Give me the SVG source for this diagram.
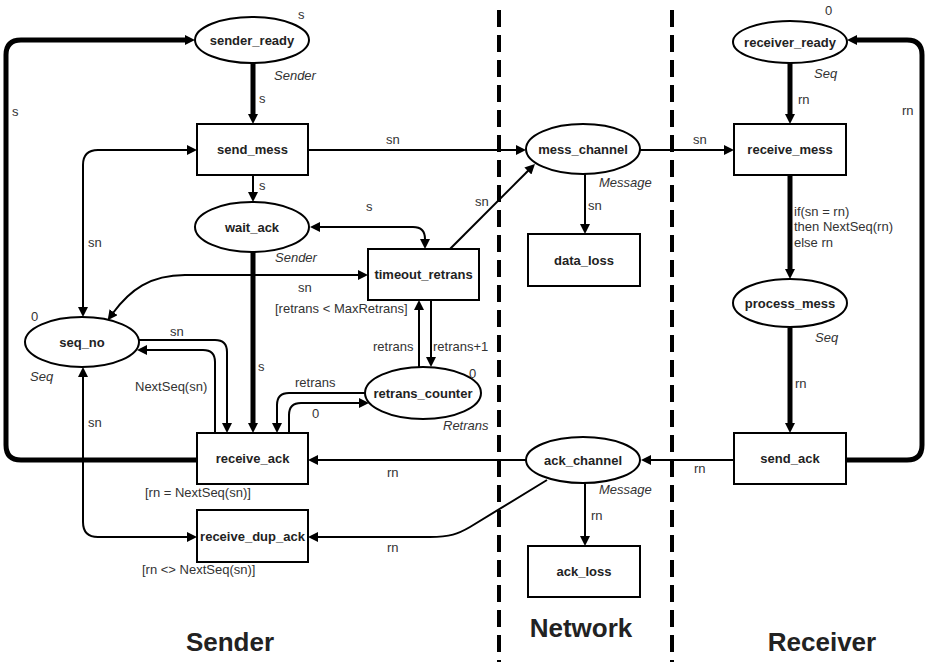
<svg xmlns="http://www.w3.org/2000/svg" width="927" height="662" viewBox="0 0 927 662">
<style>
.place{fill:#fff;stroke:#000;stroke-width:2}
.trans{fill:#fff;stroke:#000;stroke-width:2}
.nl{font-family:"Liberation Sans",Arial,sans-serif;font-size:13px;font-weight:bold;fill:#222;text-anchor:middle}
.lb{font-family:"Liberation Sans",Arial,sans-serif;font-size:13px;fill:#333}
.ty{font-family:"Liberation Sans",Arial,sans-serif;font-size:13px;font-style:italic;fill:#333}
.big{font-family:"Liberation Sans",Arial,sans-serif;font-size:26px;font-weight:bold;fill:#222;text-anchor:middle}
.c{fill:none;stroke:#000;stroke-width:2}
.k{fill:none;stroke:#000;stroke-width:5}
.a{marker-end:url(#ah)}
.b{marker-start:url(#ahs);marker-end:url(#ah)}
.div{stroke:#000;stroke-width:4;stroke-dasharray:17 8}
</style>
<defs>
<marker id="ah" markerUnits="userSpaceOnUse" markerWidth="10" markerHeight="10" refX="1" refY="5" orient="auto"><path d="M0,0 L10,5 L0,10 z" fill="#000"/></marker>
<marker id="ahs" markerUnits="userSpaceOnUse" markerWidth="10" markerHeight="10" refX="1" refY="5" orient="auto-start-reverse"><path d="M0,0 L10,5 L0,10 z" fill="#000"/></marker>
</defs>
<rect width="927" height="662" fill="#fff"/>
<g id="dividers">
<line class="div" x1="499" y1="10" x2="499" y2="662"/>
<line class="div" x1="672" y1="10" x2="672" y2="662"/>
</g>
<g id="connectors">
<path class="k a" d="M197,460 H21 Q6,460 6,445 V55 Q6,40 21,40 H186"/>
<path class="k a" d="M253,63 V115"/>
<path class="c a" d="M253,175 V193"/>
<path class="k a" d="M253,252 V424"/>
<path class="c b" d="M83,308 V165 Q83,150 98,150 H188"/>
<path class="c b" d="M83,376 V522 Q83,537 98,537 H188"/>
<path class="c b" d="M113,313 C130,290 150,275 185,275 H359"/>
<path class="c b" d="M319,227 H413 Q425,227 425,239 V240"/>
<path class="c a" d="M139,340 H215 Q227,340 227,352 V424"/>
<path class="c a" d="M215,433 V362 Q215,350 203,350 H146"/>
<path class="c a" d="M365,393 H289 Q277,393 277,405 V424"/>
<path class="c a" d="M289,433 V415 Q289,403 301,403 H360"/>
<path class="c a" d="M419,367 V309"/>
<path class="c a" d="M431,300 V358"/>
<path class="c a" d="M450,249 L528.6,170.3"/>
<path class="c a" d="M308,150 H517"/>
<path class="c a" d="M585,174 V225"/>
<path class="c a" d="M640,150 H725"/>
<path class="k a" d="M790,63 V115"/>
<path class="k a" d="M790,176 V270"/>
<path class="k a" d="M790,328 V424"/>
<path class="k a" d="M846,460 H907 Q922,460 922,445 V55 Q922,40 907,40 H856"/>
<path class="c a" d="M734,460 H650"/>
<path class="c a" d="M526,460 H317"/>
<path class="c a" d="M547,480 L470,527 C458,534 450,537 430,537 H317"/>
<path class="c a" d="M585,483 V537"/>
<text class="lb" x="12" y="116">s</text>
<text class="lb" x="259" y="103">s</text>
<text class="lb" x="259" y="190">s</text>
<text class="lb" x="88" y="247">sn</text>
<text class="lb" x="366" y="211">s</text>
<text class="lb" x="298" y="292">sn</text>
<text class="lb" x="275" y="313">[retrans &lt; MaxRetrans]</text>
<text class="lb" x="170" y="336">sn</text>
<text class="lb" x="135" y="391">NextSeq(sn)</text>
<text class="lb" x="258" y="371">s</text>
<text class="lb" x="88" y="427">sn</text>
<text class="lb" x="373" y="351">retrans</text>
<text class="lb" x="433" y="351">retrans+1</text>
<text class="lb" x="295" y="387">retrans</text>
<text class="lb" x="312" y="418">0</text>
<text class="lb" x="145" y="497">[rn = NextSeq(sn)]</text>
<text class="lb" x="142" y="574">[rn &lt;&gt; NextSeq(sn)]</text>
<text class="lb" x="386" y="144">sn</text>
<text class="lb" x="475" y="206">sn</text>
<text class="lb" x="588" y="210">sn</text>
<text class="lb" x="693" y="144">sn</text>
<text class="lb" x="798" y="104">rn</text>
<text class="lb" x="902" y="115">rn</text>
<text class="lb" x="794" y="216">if(sn = rn)</text>
<text class="lb" x="794" y="231">then NextSeq(rn)</text>
<text class="lb" x="794" y="247">else rn</text>
<text class="lb" x="795" y="388">rn</text>
<text class="lb" x="694" y="473">rn</text>
<text class="lb" x="387" y="477">rn</text>
<text class="lb" x="387" y="552">rn</text>
<text class="lb" x="591" y="520">rn</text>
</g>
<g id="sender_ready">
<ellipse class="place" cx="252" cy="40" rx="57" ry="23"/>
<text class="nl" x="252" y="44.5">sender_ready</text>
<text class="lb" x="298" y="19">s</text>
<text class="ty" x="274" y="80">Sender</text>
</g>
<g id="send_mess">
<rect class="trans" x="197" y="124" width="111" height="51"/>
<text class="nl" x="252.5" y="154">send_mess</text>
</g>
<g id="wait_ack">
<ellipse class="place" cx="252" cy="227" rx="57" ry="25"/>
<text class="nl" x="252" y="231.5">wait_ack</text>
<text class="ty" x="275" y="262">Sender</text>
</g>
<g id="seq_no">
<ellipse class="place" cx="82" cy="342" rx="57" ry="25"/>
<text class="nl" x="82" y="346.5">seq_no</text>
<text class="lb" x="31" y="321">0</text>
<text class="ty" x="30" y="381">Seq</text>
</g>
<g id="timeout_retrans">
<rect class="trans" x="368" y="249" width="111" height="51"/>
<text class="nl" x="423.5" y="279">timeout_retrans</text>
</g>
<g id="retrans_counter">
<ellipse class="place" cx="423" cy="393" rx="58" ry="26"/>
<text class="nl" x="423" y="397.5">retrans_counter</text>
<text class="lb" x="469" y="378">0</text>
<text class="ty" x="443" y="430">Retrans</text>
</g>
<g id="receive_ack">
<rect class="trans" x="197" y="433" width="111" height="51"/>
<text class="nl" x="252.5" y="463">receive_ack</text>
</g>
<g id="receive_dup_ack">
<rect class="trans" x="197" y="510" width="111" height="52"/>
<text class="nl" x="252.5" y="540.5">receive_dup_ack</text>
</g>
<g id="mess_channel">
<ellipse class="place" cx="583" cy="149" rx="57" ry="25"/>
<text class="nl" x="583" y="153.5">mess_channel</text>
<text class="ty" x="599" y="187">Message</text>
</g>
<g id="data_loss">
<rect class="trans" x="528" y="234" width="112" height="52"/>
<text class="nl" x="584" y="264.5">data_loss</text>
</g>
<g id="ack_channel">
<ellipse class="place" cx="583" cy="460" rx="57" ry="23"/>
<text class="nl" x="583" y="464.5">ack_channel</text>
<text class="ty" x="599" y="494">Message</text>
</g>
<g id="ack_loss">
<rect class="trans" x="528" y="546" width="112" height="51"/>
<text class="nl" x="584" y="576">ack_loss</text>
</g>
<g id="receiver_ready">
<ellipse class="place" cx="790" cy="42" rx="57" ry="21"/>
<text class="nl" x="790" y="46.5">receiver_ready</text>
<text class="lb" x="825" y="15">0</text>
<text class="ty" x="814" y="78">Seq</text>
</g>
<g id="receive_mess">
<rect class="trans" x="734" y="124" width="112" height="51"/>
<text class="nl" x="790" y="154">receive_mess</text>
</g>
<g id="process_mess">
<ellipse class="place" cx="790" cy="303" rx="57" ry="24"/>
<text class="nl" x="790" y="307.5">process_mess</text>
<text class="ty" x="815" y="342">Seq</text>
</g>
<g id="send_ack">
<rect class="trans" x="734" y="433" width="112" height="51"/>
<text class="nl" x="790" y="463">send_ack</text>
</g>
<g id="regions">
<text class="big" x="230" y="651">Sender</text>
<text class="big" x="581" y="637">Network</text>
<text class="big" x="822" y="651">Receiver</text>
</g>
</svg>
